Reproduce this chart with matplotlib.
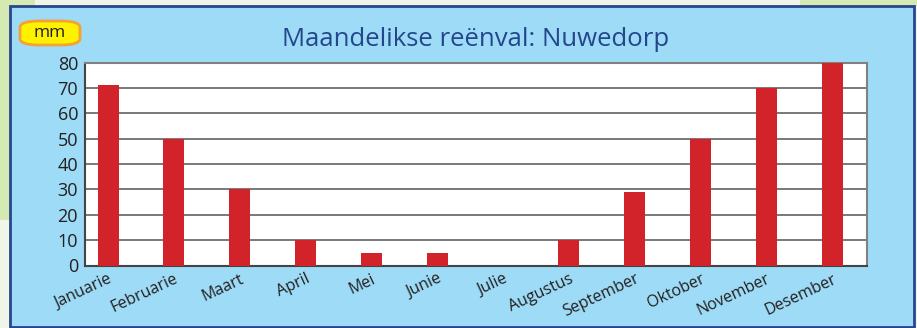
import matplotlib.pyplot as plt
from matplotlib.patches import FancyBboxPatch, Rectangle

# Maandelikse reënval vir Nuwedorp (mm)
maande = ["Januarie", "Februarie", "Maart", "April", "Mei", "Junie",
          "Julie", "Augustus", "September", "Oktober", "November", "Desember"]
reenval = [71, 50, 30, 10, 5, 5, 0, 10, 29, 50, 70, 80]
y_ticks = [0, 10, 20, 30, 40, 50, 60, 70, 80]

plt.rcParams['font.family'] = ['Open Sans', 'DejaVu Sans']

W, H = 917, 328
fig = plt.figure(figsize=(W / 100, H / 100), dpi=100)
fig.patch.set_facecolor('#f1f5e8')

# agtergrond: groen stroke en die blou paneel
fig.patches.append(Rectangle((0, 1 - 220 / H), 10 / W, 220 / H, transform=fig.transFigure,
                             facecolor='#d5e9b3', edgecolor='none', zorder=0))
fig.patches.append(Rectangle((0, 1 - 6 / H), 35 / W, 6 / H, transform=fig.transFigure,
                             facecolor='#d5e9b3', edgecolor='none', zorder=0))
fig.patches.append(Rectangle((800 / W, 1 - 6 / H), 117 / W, 6 / H, transform=fig.transFigure,
                             facecolor='#d5e9b3', edgecolor='none', zorder=0))
fig.patches.append(Rectangle((10 / W, 1 / H), 904 / W, 321 / H, transform=fig.transFigure,
                             facecolor='#9ddbf6', edgecolor='#27468f', linewidth=2, zorder=1))

ax = fig.add_axes([85 / W, (H - 265.5) / H, 782 / W, 203 / H])
ax.set_facecolor('white')
ax.set_zorder(2)

x = range(len(maande))
ax.bar(x, reenval, width=0.32, color='#d2232a', zorder=3)

ax.set_xlim(-0.35, 11.53)
ax.set_ylim(0, 80)
ax.set_yticks(y_ticks)
ax.yaxis.grid(True, color='#555555', linewidth=1.1, zorder=1)
ax.set_axisbelow(True)

ax.set_xticks(list(x))
ax.set_xticklabels(maande, rotation=25, ha='right', va='top',
                   rotation_mode='anchor', fontsize=11.5, color='#231f20')
ax.tick_params(axis='x', length=0, pad=4)
ax.tick_params(axis='y', length=0, pad=5, labelsize=13, labelcolor='#231f20')

for side in ['top', 'right']:
    ax.spines[side].set_color('#808080')
    ax.spines[side].set_linewidth(1.5)
for side in ['left', 'bottom']:
    ax.spines[side].set_color('#444444')
    ax.spines[side].set_linewidth(1.5)

fig.text(476 / W, 1 - 40 / H, "Maandelikse reënval: Nuwedorp", ha='center', va='center',
         fontsize=18.5, color='#24468c')

# eenheid-etiket
fig.patches.append(FancyBboxPatch((20 / W, 1 - 45 / H), 60 / W, 24 / H,
                                  boxstyle="round,pad=0,rounding_size=0.02",
                                  transform=fig.transFigure, facecolor='#fff200',
                                  edgecolor='#f5a233', linewidth=2, zorder=3))
fig.text(50 / W, 1 - 33 / H, "mm", ha='center', va='center', fontsize=12.5,
         color='#231f20', zorder=4)

fig.savefig("out.png", dpi=100, facecolor=fig.get_facecolor())
